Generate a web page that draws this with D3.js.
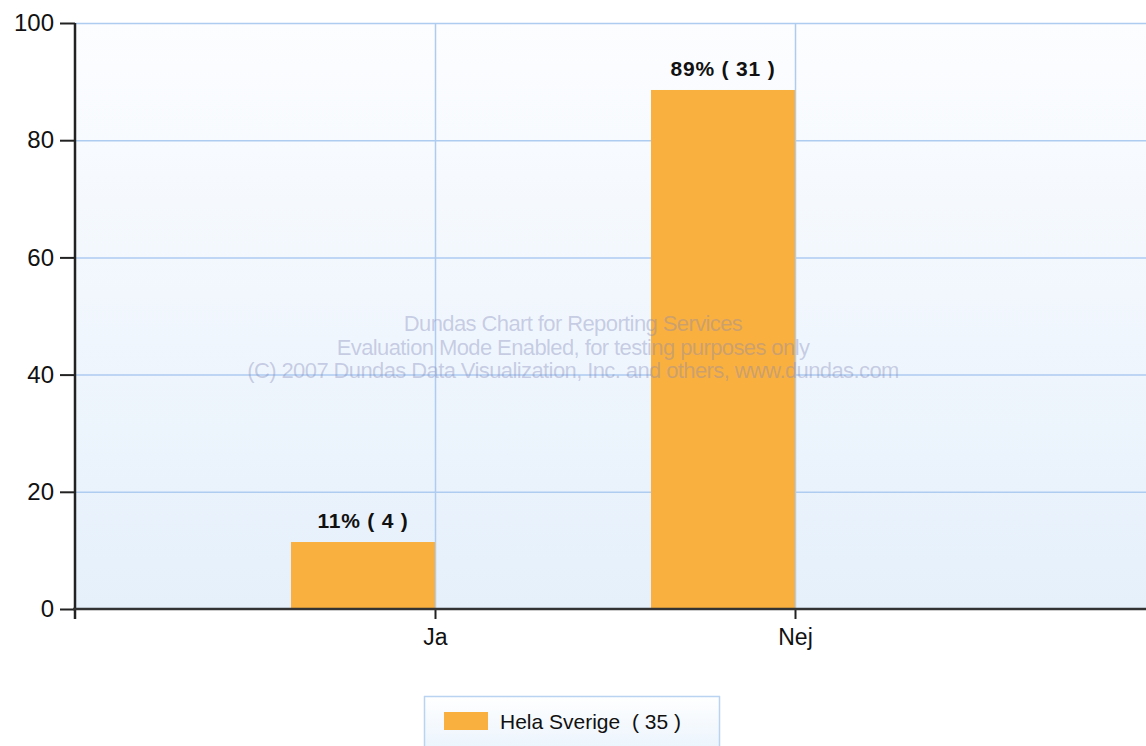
<!DOCTYPE html>
<html>
<head>
<meta charset="utf-8">
<script src="https://cdn.jsdelivr.net/npm/d3@7"></script>
<style>
  body { margin: 0; background: #fff; }
  svg { display: block; font-family: "Liberation Sans", Arial, sans-serif; }
</style>
</head>
<body>
<svg id="chart"></svg>
<script>
// data
var categories = ["Ja", "Nej"];
var counts = [4, 31];
var percents = [11.43, 88.57];
var yTicks = [0, 20, 40, 60, 80, 100];
var seriesName = "Hela Sverige";
var total = 35;
var watermark = [
  "Dundas Chart for Reporting Services",
  "Evaluation Mode Enabled, for testing purposes only",
  "(C) 2007 Dundas Data Visualization, Inc. and others, www.dundas.com"
];

var W = 1146, H = 746;
var margin = {top: 23, left: 75},
    plotRight = 1155,
    plotBottom = 609;

var svg = d3.select("#chart").attr("width", W).attr("height", H);

var defs = svg.append("defs");
var bg = defs.append("linearGradient").attr("id", "bg")
    .attr("x1", 0).attr("y1", 0).attr("x2", 0).attr("y2", 1);
bg.append("stop").attr("offset", "0%").attr("stop-color", "#fcfdff");
bg.append("stop").attr("offset", "100%").attr("stop-color", "#e5f0fb");
var lg = defs.append("linearGradient").attr("id", "lg")
    .attr("x1", 0).attr("y1", 0).attr("x2", 0).attr("y2", 1);
lg.append("stop").attr("offset", "0%").attr("stop-color", "#ffffff");
lg.append("stop").attr("offset", "100%").attr("stop-color", "#e8f2fc");

var x = d3.scalePoint()
    .domain(categories)
    .range([margin.left, plotRight])
    .padding(1);

var y = d3.scaleLinear()
    .domain([0, 100])
    .range([plotBottom, margin.top]);

var barW = x.step() * 0.4;

// plot background
svg.append("rect")
    .attr("x", margin.left).attr("y", margin.top)
    .attr("width", plotRight - margin.left)
    .attr("height", plotBottom - margin.top)
    .attr("fill", "url(#bg)");

// gridlines
svg.append("g")
    .attr("transform", "translate(" + margin.left + ",0)")
    .call(d3.axisLeft(y).tickValues(yTicks.slice(1)).tickSize(-(plotRight - margin.left)).tickFormat(""))
    .call(function(g) {
      g.select(".domain").remove();
      g.selectAll("line").attr("stroke", "#aecbf0").attr("stroke-width", 1.5);
    });
svg.append("g")
    .attr("transform", "translate(0," + margin.top + ")")
    .call(d3.axisBottom(x).tickSize(plotBottom - margin.top).tickFormat(""))
    .call(function(g) {
      g.select(".domain").remove();
      g.selectAll("line").attr("stroke", "#aecbf0").attr("stroke-width", 1.5);
    });

// bars
svg.selectAll(".bar")
    .data(categories)
  .enter().append("rect")
    .attr("class", "bar")
    .attr("x", function(d) { return x(d) - barW; })
    .attr("width", barW)
    .attr("y", function(d, i) { return y(percents[i]); })
    .attr("height", function(d, i) { return plotBottom - y(percents[i]); })
    .attr("fill", "#f9b03f");

// data labels
svg.selectAll(".lbl")
    .data(categories)
  .enter().append("text")
    .attr("class", "lbl")
    .attr("x", function(d) { return x(d) - barW / 2; })
    .attr("y", function(d, i) { return y(percents[i]) - 14; })
    .attr("text-anchor", "middle")
    .style("font-size", "21px")
    .style("font-weight", "bold")
    .style("letter-spacing", "0.8px")
    .attr("fill", "#111")
    .text(function(d, i) { return Math.round(percents[i]) + "% ( " + counts[i] + " )"; });

// axes
var yAxis = svg.append("g")
    .attr("transform", "translate(" + margin.left + ",0)")
    .call(d3.axisLeft(y).tickValues(yTicks).tickSize(15).tickPadding(6));
yAxis.select(".domain").remove();
yAxis.selectAll("line").attr("stroke", "#222").attr("stroke-width", 2);
yAxis.selectAll("text").style("font-size", "24px").attr("fill", "#111");

var xAxis = svg.append("g")
    .attr("transform", "translate(0," + plotBottom + ")")
    .call(d3.axisBottom(x).tickSize(10).tickPadding(10));
xAxis.select(".domain").remove();
xAxis.selectAll("line").attr("stroke", "#222").attr("stroke-width", 2);
xAxis.selectAll("text").style("font-size", "23px").attr("fill", "#111");

svg.append("line")
    .attr("x1", margin.left).attr("x2", margin.left)
    .attr("y1", margin.top).attr("y2", plotBottom + 10)
    .attr("stroke", "#222").attr("stroke-width", 2.5);
svg.append("line")
    .attr("x1", margin.left - 2).attr("x2", W)
    .attr("y1", plotBottom).attr("y2", plotBottom)
    .attr("stroke", "#333").attr("stroke-width", 2.5);

// watermark
svg.append("g").selectAll("text")
    .data(watermark)
  .enter().append("text")
    .attr("x", 573)
    .attr("y", function(d, i) { return 331 + i * 23.5; })
    .attr("text-anchor", "middle")
    .style("font-size", "22px")
    .style("letter-spacing", "-0.6px")
    .attr("fill", "rgba(130,135,185,0.38)")
    .text(function(d) { return d; });

// legend
var leg = svg.append("g");
leg.append("rect")
    .attr("x", 424.5).attr("y", 696.5)
    .attr("width", 295).attr("height", 60)
    .attr("fill", "url(#lg)")
    .attr("stroke", "#b9d3f0").attr("stroke-width", 1.5);
leg.append("rect")
    .attr("x", 444).attr("y", 712)
    .attr("width", 44).attr("height", 18)
    .attr("fill", "#f9b03f");
leg.append("text")
    .attr("x", 500).attr("y", 729)
    .style("font-size", "21px")
    .attr("fill", "#111")
    .text(seriesName + "  ( " + total + " )")
    .attr("xml:space", "preserve")
    .style("white-space", "pre");
</script>
</body>
</html>
